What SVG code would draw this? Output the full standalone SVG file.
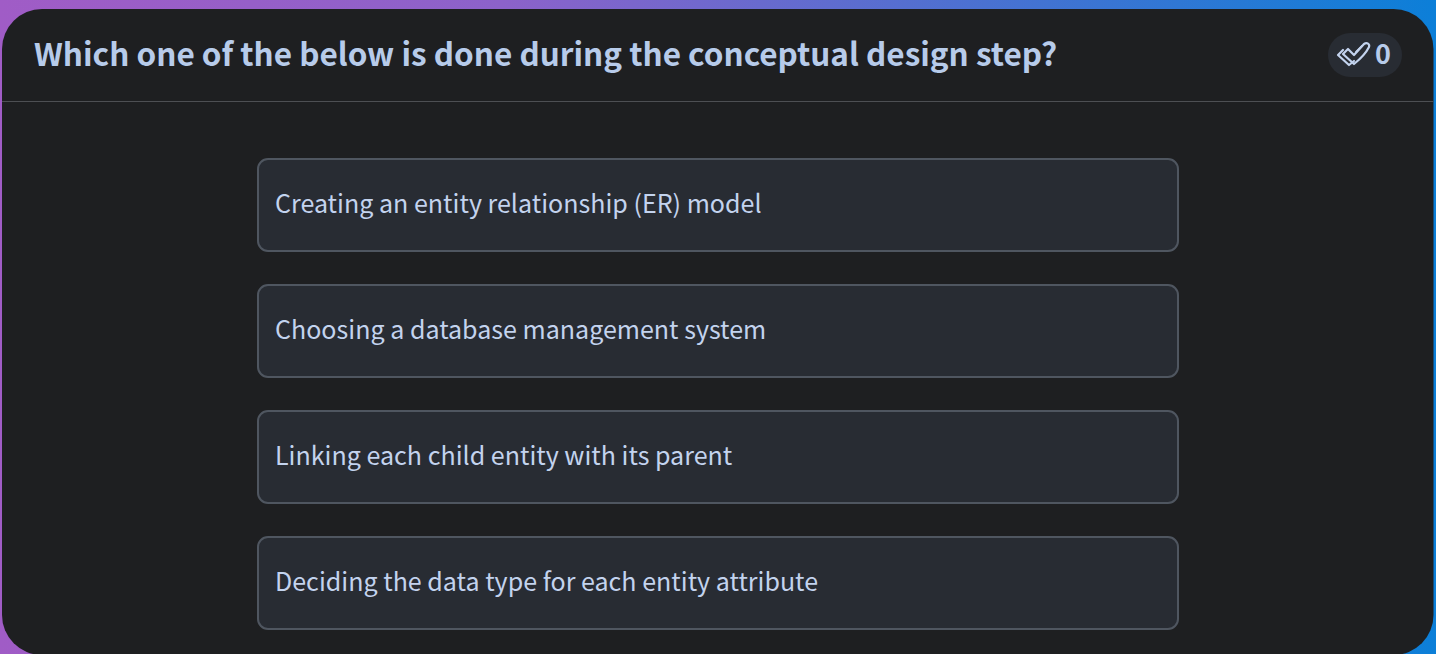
<svg xmlns="http://www.w3.org/2000/svg" width="1436" height="654" viewBox="0 0 1436 654">
<style>
.q{font-family:"Noto Sans CJK SC","Noto Sans",sans-serif;font-weight:700;font-size:31.5px;fill:#b7cbea}
.opt rect{fill:#282c33;stroke:#4f5660;stroke-width:2}
.opt text{font-family:"Noto Sans CJK SC","Noto Sans",sans-serif;font-size:25.05px;fill:#c3d3ee}
</style>
<defs><linearGradient id="g" x1="0" y1="0" x2="1" y2="0"><stop offset="0" stop-color="#a05cc6"/><stop offset="0.35" stop-color="#8c62ca"/><stop offset="1" stop-color="#0c7fd8"/></linearGradient></defs>
<rect width="1436" height="654" fill="url(#g)"/>
<rect x="2" y="9" width="1431.500" height="646" rx="40" fill="#1e1f21"/>
<g id="header">
<text class="q" x="34" y="65.600">Which one of the below is done during the conceptual design step?</text>
<rect x="2" y="101" width="1431.500" height="1" fill="#4d4f53"/>
<rect x="1328" y="33" width="74" height="44" rx="22" fill="#282c33"/>
<g fill="none" stroke="#c3d3ee" stroke-width="2.200" stroke-linejoin="round" stroke-linecap="round"><path d="M1343 50l-5 5 11 10 5-4"/><path d="M1348 49l-5 5 11 10c5-4 12-11 15-17 1-3-2-5-5-3l-10 11z"/><path d="M1356 52l6-6" stroke-width="1.800"/></g>
<text x="1375" y="64" style="font-family:'Noto Sans CJK SC','Noto Sans',sans-serif;font-weight:700;font-size:27px;fill:#b7cbea">0</text>
</g>
<g id="option1" class="opt"><rect x="258" y="159" width="920" height="92" rx="10"/><text x="275" y="213">Creating an entity relationship (ER) model</text></g>
<g id="option2" class="opt"><rect x="258" y="285" width="920" height="92" rx="10"/><text x="275" y="339">Choosing a database management system</text></g>
<g id="option3" class="opt"><rect x="258" y="411" width="920" height="92" rx="10"/><text x="275" y="465">Linking each child entity with its parent</text></g>
<g id="option4" class="opt"><rect x="258" y="537" width="920" height="92" rx="10"/><text x="275" y="591">Deciding the data type for each entity attribute</text></g>
</svg>
